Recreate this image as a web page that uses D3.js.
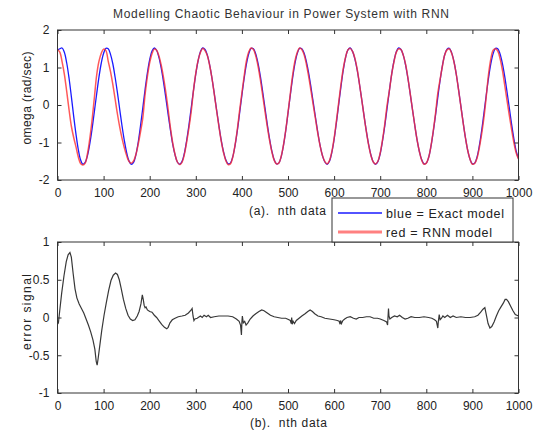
<!DOCTYPE html>
<html>
<head>
<meta charset="utf-8">
<script src="https://cdn.jsdelivr.net/npm/d3@7"></script>
<style>
  html, body { margin: 0; padding: 0; background: #fff; }
  svg { display: block; font-family: "Liberation Sans", Arial, sans-serif; }
  .tick text { fill: #222; font-size: 12px; }
  .tick line { stroke: #333; }
</style>
</head>
<body>
<svg id="chart" width="534" height="433"></svg>
<script>
// sample index of the two model traces (every 5th data point)
const nData = d3.range(0, 1001, 5);

// exact model omega
const exactModel = [
  1.46, 1.50, 1.52, 1.40, 1.12, 0.72, 0.23, -0.29, -0.77, -1.18,
  -1.46, -1.58, -1.53, -1.35, -1.04, -0.64, -0.17, 0.30, 0.75, 1.12,
  1.38, 1.51, 1.50, 1.35, 1.10, 0.74, 0.33, -0.12, -0.56, -0.95,
  -1.27, -1.49, -1.58, -1.53, -1.33, -1.00, -0.56, -0.08, 0.41, 0.86,
  1.21, 1.44, 1.52, 1.46, 1.27, 0.98, 0.61, 0.19, -0.25, -0.67,
  -1.05, -1.33, -1.52, -1.58, -1.51, -1.30, -0.96, -0.55, -0.08, 0.39,
  0.83, 1.18, 1.42, 1.52, 1.48, 1.33, 1.07, 0.72, 0.31, -0.12,
  -0.54, -0.93, -1.24, -1.46, -1.57, -1.55, -1.39, -1.09, -0.69, -0.22,
  0.26, 0.72, 1.10, 1.37, 1.51, 1.50, 1.36, 1.11, 0.77, 0.36,
  -0.07, -0.51, -0.90, -1.23, -1.46, -1.57, -1.55, -1.39, -1.09, -0.69,
  -0.22, 0.26, 0.72, 1.10, 1.37, 1.51, 1.50, 1.38, 1.15, 0.84,
  0.46, 0.05, -0.36, -0.76, -1.10, -1.36, -1.52, -1.58, -1.50, -1.27,
  -0.92, -0.47, 0.02, 0.50, 0.94, 1.27, 1.47, 1.52, 1.43, 1.23,
  0.94, 0.56, 0.14, -0.29, -0.70, -1.06, -1.34, -1.52, -1.58, -1.51,
  -1.30, -0.96, -0.55, -0.08, 0.39, 0.83, 1.18, 1.42, 1.52, 1.48,
  1.33, 1.07, 0.72, 0.31, -0.12, -0.54, -0.93, -1.24, -1.46, -1.57,
  -1.55, -1.40, -1.11, -0.72, -0.27, 0.21, 0.66, 1.05, 1.34, 1.49,
  1.51, 1.39, 1.16, 0.82, 0.41, -0.03, -0.47, -0.88, -1.22, -1.45,
  -1.57, -1.55, -1.39, -1.09, -0.69, -0.22, 0.26, 0.72, 1.10, 1.37,
  1.51, 1.50, 1.36, 1.11, 0.77, 0.36, -0.07, -0.51, -0.90, -1.23,
  -1.43
];

// RNN model omega
const rnnModel = [
  1.48, 1.41, 1.15, 0.81, 0.36, -0.12, -0.56, -0.86, -1.11, -1.38,
  -1.56, -1.60, -1.55, -1.30, -0.90, -0.40, 0.20, 0.80, 1.17, 1.38,
  1.49, 1.45, 1.17, 0.89, 0.55, 0.16, -0.24, -0.59, -0.89, -1.14,
  -1.35, -1.50, -1.55, -1.49, -1.32, -1.05, -0.72, -0.35, 0.28, 0.76,
  1.13, 1.37, 1.49, 1.46, 1.31, 1.06, 0.73, 0.34, -0.12, -0.61,
  -1.02, -1.32, -1.52, -1.59, -1.53, -1.33, -1.00, -0.62, -0.18, 0.39,
  0.85, 1.19, 1.40, 1.51, 1.45, 1.32, 1.06, 0.72, 0.30, -0.14,
  -0.56, -0.95, -1.26, -1.48, -1.59, -1.57, -1.40, -1.08, -0.66, -0.15,
  0.32, 0.78, 1.19, 1.42, 1.52, 1.48, 1.31, 1.04, 0.68, 0.26,
  -0.16, -0.57, -0.94, -1.25, -1.47, -1.57, -1.55, -1.38, -1.08, -0.68,
  -0.20, 0.30, 0.79, 1.17, 1.40, 1.52, 1.48, 1.34, 1.08, 0.75,
  0.37, -0.02, -0.40, -0.78, -1.11, -1.36, -1.51, -1.57, -1.48, -1.25,
  -0.89, -0.43, 0.07, 0.56, 0.98, 1.28, 1.47, 1.51, 1.43, 1.25,
  0.96, 0.56, 0.14, -0.30, -0.71, -1.07, -1.35, -1.52, -1.57, -1.50,
  -1.28, -0.93, -0.50, 0.00, 0.39, 0.83, 1.16, 1.41, 1.50, 1.48,
  1.33, 1.09, 0.73, 0.31, -0.12, -0.54, -0.93, -1.24, -1.47, -1.58,
  -1.55, -1.40, -1.10, -0.70, -0.23, 0.32, 0.69, 1.04, 1.34, 1.47,
  1.50, 1.38, 1.15, 0.82, 0.40, -0.04, -0.48, -0.88, -1.22, -1.45,
  -1.58, -1.56, -1.42, -1.14, -0.78, -0.34, 0.22, 0.82, 1.23, 1.46,
  1.50, 1.44, 1.24, 0.94, 0.54, 0.13, -0.27, -0.65, -1.00, -1.28,
  -1.44
];

// error signal of panel (b): data point and value
const errN = [
  0, 2, 5, 9, 14, 19, 23, 27, 30, 34, 38, 42, 47, 52, 57, 62, 67, 72, 77, 81,
  84, 86, 88, 92, 96, 101, 106, 111, 116, 121, 126, 130, 134, 138, 143, 148, 153, 158, 163, 168,
  173, 177, 181, 184, 186, 188, 190, 192, 195, 200, 205, 210, 215, 220, 226, 232, 237, 240, 244, 249,
  255, 262, 270, 277, 284, 290, 292, 294, 296, 298, 303, 310, 314, 318, 323, 327, 332, 340, 350, 360,
  370, 380, 388, 394, 397, 399, 400, 401, 403, 406, 409, 413, 418, 424, 430, 437, 443, 448, 455, 462,
  470, 478, 486, 495, 502, 505, 507, 508, 509, 511, 514, 518, 524, 530, 537, 543, 548, 553, 558, 565,
  572, 580, 590, 600, 607, 611, 613, 614, 616, 619, 623, 628, 635, 642, 648, 654, 662, 670, 678, 686,
  694, 700, 708, 714, 716, 718, 719, 721, 725, 731, 737, 742, 748, 754, 760, 767, 775, 785, 795, 805,
  812, 818, 822, 825, 826, 828, 830, 833, 836, 840, 846, 852, 858, 865, 875, 885, 895, 905, 912, 918,
  923, 927, 930, 934, 938, 942, 947, 952, 957, 962, 967, 971, 974, 978, 983, 988, 993, 1000
];
const errV = [
  -0.05, -0.07, 0.10, 0.32, 0.55, 0.74, 0.83, 0.86, 0.80, 0.58, 0.38, 0.26, 0.18, 0.12, 0.06, -0.02, -0.10, -0.19, -0.30, -0.42,
  -0.58, -0.63, -0.55, -0.36, -0.17, 0.03, 0.20, 0.36, 0.49, 0.56, 0.59, 0.57, 0.50, 0.39, 0.24, 0.12, 0.03, -0.02, -0.04, -0.03,
  0.02, 0.08, 0.18, 0.30, 0.24, 0.16, 0.13, 0.14, 0.10, 0.08, 0.07, 0.03, 0.00, -0.04, -0.09, -0.13, -0.15, -0.13, -0.07, -0.03,
  -0.01, 0.01, 0.02, 0.03, 0.06, 0.10, 0.12, 0.02, -0.04, -0.02, -0.01, 0.02, 0.00, 0.03, 0.01, 0.03, 0.00, 0.01, 0.02, 0.02,
  0.02, 0.01, -0.02, -0.05, -0.10, -0.23, -0.06, 0.02, -0.07, -0.05, -0.10, -0.07, -0.02, 0.02, 0.05, 0.08, 0.10, 0.09, 0.06, 0.03,
  0.01, 0.00, -0.01, -0.01, -0.03, -0.04, -0.08, 0.00, -0.09, -0.05, -0.08, -0.04, -0.01, 0.02, 0.05, 0.08, 0.10, 0.08, 0.05, 0.02,
  0.01, -0.01, -0.02, -0.03, -0.04, -0.05, -0.09, -0.04, -0.08, -0.04, -0.02, 0.00, 0.01, -0.01, -0.02, 0.00, 0.00, 0.01, 0.01, -0.01,
  -0.01, -0.02, -0.04, -0.06, -0.10, 0.12, 0.02, -0.02, 0.00, 0.02, 0.01, 0.03, 0.00, -0.02, -0.01, 0.01, 0.00, 0.00, 0.01, 0.00,
  -0.01, -0.03, -0.05, -0.14, -0.06, 0.04, -0.03, -0.01, 0.02, 0.00, 0.03, 0.00, 0.02, 0.00, 0.01, 0.00, 0.00, 0.01, 0.03, 0.07,
  0.11, 0.13, 0.04, -0.08, -0.14, -0.12, -0.06, 0.02, 0.09, 0.14, 0.19, 0.24, 0.24, 0.21, 0.15, 0.09, 0.04, 0.02
];

const xTicks = [0, 100, 200, 300, 400, 500, 600, 700, 800, 900, 1000];
const omegaTicks = [-2, -1, 0, 1, 2];
const errTicks = [-1, -0.5, 0, 0.5, 1];

const legendItems = [
  { label: 'blue = Exact model', color: '#1a1aff', width: 1.5, len: 118 },
  { label: 'red = RNN model', color: '#ff8080', width: 3, len: 106 }
];

const svg = d3.select('#chart');
const left = 57.5, right = 518.5;

const x = d3.scaleLinear().domain([0, 1000]).range([left, right]);
const yTop = d3.scaleLinear().domain([-2, 2]).range([180, 30]);
const yBot = d3.scaleLinear().domain([-1, 1]).range([393, 242]);

// matlab style box with inward ticks on all four sides
function drawAxes(y, yTicks, top, bottom) {
  const fmt = d => String(d);
  svg.append('g')
    .attr('transform', `translate(0,${bottom})`)
    .call(d3.axisBottom(x).tickValues(xTicks).tickFormat(fmt).tickSizeInner(-4).tickSizeOuter(0).tickPadding(8))
    .call(g => g.select('.domain').remove());
  svg.append('g')
    .attr('transform', `translate(0,${top})`)
    .call(d3.axisTop(x).tickValues(xTicks).tickFormat('').tickSizeInner(-4).tickSizeOuter(0))
    .call(g => g.select('.domain').remove());
  svg.append('g')
    .attr('transform', `translate(${left},0)`)
    .call(d3.axisLeft(y).tickValues(yTicks).tickFormat(fmt).tickSizeInner(-4).tickSizeOuter(0).tickPadding(8))
    .call(g => g.select('.domain').remove());
  svg.append('g')
    .attr('transform', `translate(${right},0)`)
    .call(d3.axisRight(y).tickValues(yTicks).tickFormat('').tickSizeInner(-4).tickSizeOuter(0))
    .call(g => g.select('.domain').remove());
  svg.append('rect')
    .attr('x', left).attr('y', top)
    .attr('width', right - left).attr('height', bottom - top)
    .attr('fill', 'none').attr('stroke', '#333').attr('stroke-width', 1);
}

// panel (a)
const omegaLine = vals => d3.line()
  .x((d, i) => x(nData[i]))
  .y(d => yTop(d))
  .curve(d3.curveCatmullRom)(vals);

svg.append('path').attr('d', omegaLine(exactModel))
  .attr('fill', 'none').attr('stroke', '#1a1aff').attr('stroke-width', 1.3);
svg.append('path').attr('d', omegaLine(rnnModel))
  .attr('fill', 'none').attr('stroke', '#ff3030').attr('stroke-width', 1.5).attr('stroke-opacity', 0.8);

drawAxes(yTop, omegaTicks, 30, 180);

// panel (b)
const errLine = d3.line()
  .x((d, i) => x(errN[i]))
  .y(d => yBot(d));
svg.append('path').attr('d', errLine(errV))
  .attr('fill', 'none').attr('stroke', '#383838').attr('stroke-width', 1.2);

drawAxes(yBot, errTicks, 242, 393);

// texts
svg.append('text').attr('x', 281).attr('y', 18).attr('text-anchor', 'middle')
  .attr('font-size', 12).attr('fill', '#333').attr('textLength', 336)
  .text('Modelling Chaotic Behaviour in Power System with RNN');

svg.append('text').attr('transform', 'translate(31,98) rotate(-90)').attr('text-anchor', 'middle')
  .attr('font-size', 12).attr('fill', '#222').attr('textLength', 93).text('omega (rad/sec)');
svg.append('text').attr('transform', 'translate(31,312) rotate(-90)').attr('text-anchor', 'middle')
  .attr('font-size', 12).attr('fill', '#222').attr('textLength', 76).text('error signal');

svg.append('text').attr('x', 249).attr('y', 215).attr('font-size', 12).attr('fill', '#222')
  .attr('xml:space', 'preserve').attr('textLength', 77).text('(a).  nth data');
svg.append('text').attr('x', 250).attr('y', 427).attr('font-size', 12).attr('fill', '#222')
  .attr('xml:space', 'preserve').attr('textLength', 77).text('(b).  nth data');

// legend
const legend = svg.append('g');
legend.append('rect').attr('x', 332).attr('y', 198).attr('width', 181).attr('height', 44)
  .attr('fill', '#fff').attr('stroke', '#333').attr('stroke-width', 1);
legendItems.forEach((item, i) => {
  const ly = 213 + i * 19;
  legend.append('line').attr('x1', 338).attr('x2', 382).attr('y1', ly).attr('y2', ly)
    .attr('stroke', item.color).attr('stroke-width', item.width);
  legend.append('text').attr('x', 386).attr('y', ly + 4.5).attr('font-size', 12.5).attr('fill', '#222')
    .attr('textLength', item.len).text(item.label);
});
</script>
</body>
</html>
